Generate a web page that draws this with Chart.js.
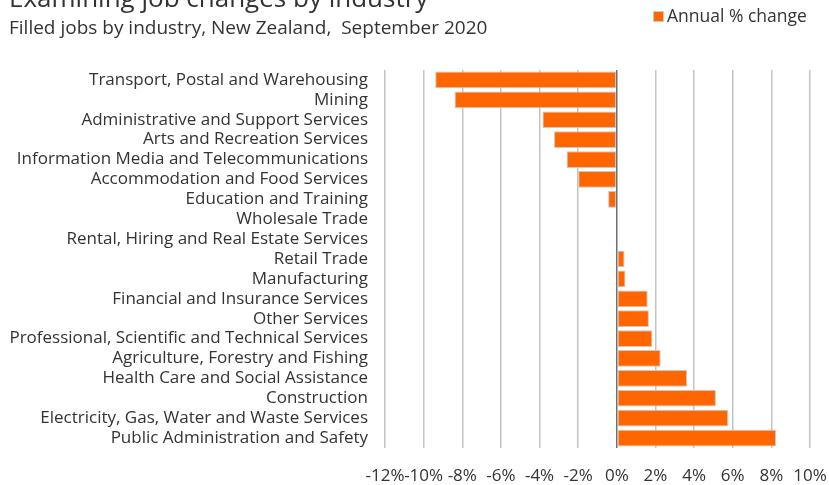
<!DOCTYPE html>
<html>
<head>
<meta charset="utf-8">
<script src="https://cdn.jsdelivr.net/npm/chart.js@4/dist/chart.umd.min.js"></script>
<style>
  html, body { margin: 0; padding: 0; background: #ffffff; }
  #wrap { position: relative; width: 829px; height: 485px; }
</style>
</head>
<body>
<div id="wrap"><canvas id="chart"></canvas></div>
<script>
// Filled jobs by industry, annual % change, September 2020
const industries = [
  'Transport, Postal and Warehousing',
  'Mining',
  'Administrative and Support Services',
  'Arts and Recreation Services',
  'Information Media and Telecommunications',
  'Accommodation and Food Services',
  'Education and Training',
  'Wholesale Trade',
  'Rental, Hiring and Real Estate Services',
  'Retail Trade',
  'Manufacturing',
  'Financial and Insurance Services',
  'Other Services',
  'Professional, Scientific and Technical Services',
  'Agriculture, Forestry and Fishing',
  'Health Care and Social Assistance',
  'Construction',
  'Electricity, Gas, Water and Waste Services',
  'Public Administration and Safety'
];
const annualChange = [
  -9.4, -8.4, -3.85, -3.25, -2.6, -2.0, -0.45, 0.0, 0.0,
  0.4, 0.45, 1.6, 1.66, 1.84, 2.27, 3.64, 5.13, 5.77, 8.24
];
const seriesName = 'Annual % change';
const titleText = 'Examining job changes by industry';
const subtitleText = 'Filled jobs by industry, New Zealand,  September 2020';
const axisMin = -12, axisMax = 10, axisStep = 2;

const FONT = '"Open Sans", "Liberation Sans", sans-serif';
const TEXT = '#333333';
const BAR = '#ff6600';

// Header: title (partly above the top edge), subtitle and a one-item legend
const headerPlugin = {
  id: 'header',
  afterDraw(chart) {
    const ctx = chart.ctx;
    ctx.save();
    ctx.fillStyle = TEXT;
    ctx.textBaseline = 'alphabetic';
    ctx.textAlign = 'left';
    ctx.font = '26px ' + FONT;
    ctx.fillText(titleText, 9, 7);
    ctx.font = '19px ' + FONT;
    ctx.fillText(subtitleText, 9, 34);
    // legend
    ctx.fillStyle = BAR;
    ctx.strokeStyle = '#c9c9c9';
    ctx.lineWidth = 1;
    ctx.fillRect(654, 12, 9, 9);
    ctx.strokeRect(653.5, 11.5, 10, 10);
    ctx.fillStyle = TEXT;
    ctx.font = '17.5px ' + FONT;
    ctx.textBaseline = 'middle';
    ctx.fillText(seriesName, 667, 17);
    ctx.restore();
  }
};

new Chart(document.getElementById('chart'), {
  type: 'bar',
  data: {
    labels: industries,
    datasets: [{
      label: seriesName,
      data: annualChange,
      backgroundColor: BAR,
      borderColor: '#c8c8c8',
      borderWidth: 1,
      borderSkipped: false,
      barPercentage: 0.84,
      categoryPercentage: 1.0
    }]
  },
  options: {
    indexAxis: 'y',
    responsive: true,
    maintainAspectRatio: false,
    animation: false,
    devicePixelRatio: 1,
    layout: { padding: { top: 70, right: 19, bottom: 0, left: 0 } },
    plugins: {
      legend: { display: false },
      title: { display: false },
      tooltip: { enabled: false }
    },
    scales: {
      x: {
        type: 'linear',
        min: axisMin,
        max: axisMax,
        afterFit(scale) {
          scale.height = 37;
          scale.paddingLeft = 0;
          scale.paddingRight = 0;
        },
        ticks: {
          stepSize: axisStep,
          padding: 18,
          autoSkip: false,
          maxRotation: 0,
          minRotation: 0,
          color: TEXT,
          font: { family: FONT, size: 17 },
          callback: v => v + '%'
        },
        border: { display: false },
        grid: {
          drawTicks: false,
          lineWidth: 1.5,
          color: ctx => (ctx.tick && ctx.tick.value === 0) ? '#6f6f6f' : '#c4c4c4'
        }
      },
      y: {
        afterFit(scale) { scale.width = 385; },
        ticks: {
          autoSkip: false,
          padding: 17,
          color: TEXT,
          font: { family: FONT, size: 17 }
        },
        border: { display: false },
        grid: { display: false, drawTicks: false }
      }
    }
  },
  plugins: [headerPlugin]
});
</script>
</body>
</html>
